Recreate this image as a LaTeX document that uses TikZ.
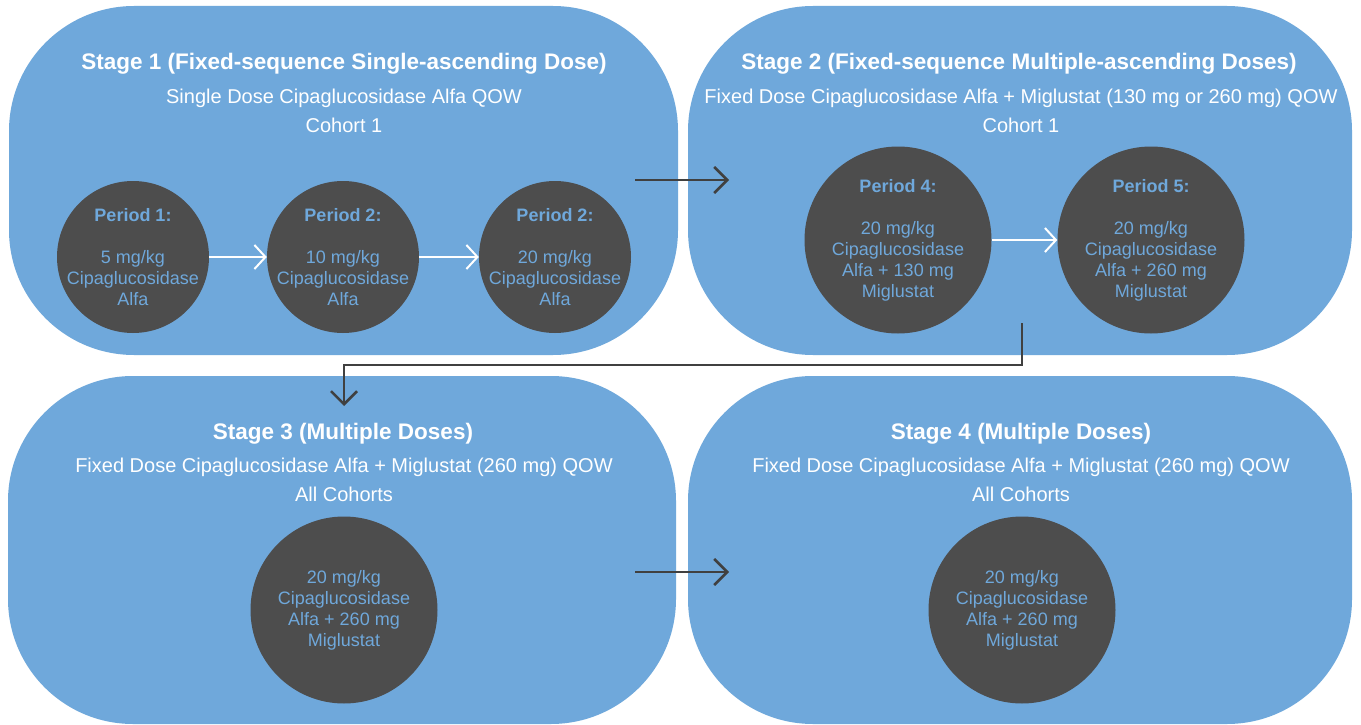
\documentclass[tikz,border=0pt]{standalone}
\usepackage{fontspec}
\setmainfont{Liberation Sans}
\usetikzlibrary{arrows.meta}

\definecolor{stageblue}{RGB}{111,168,219}
\definecolor{doseg}{RGB}{77,77,77}
\definecolor{linkg}{RGB}{64,64,64}

\tikzset{
  stagebox/.style={fill=stageblue, rounded corners=125pt, inner sep=0pt},
  stitle/.style={text=white, font=\fontsize{22.5}{26}\selectfont\bfseries},
  ssub/.style={text=white, align=center, font=\fontsize{20}{28.5}\selectfont},
  dose/.style={circle, fill=doseg, text=stageblue, inner sep=-30pt, align=center, font=\fontsize{18}{21}\selectfont},
  inarrow/.style={white, line width=2pt, -{Straight Barb[length=11pt,width=24pt,line width=2pt]}},
  flowarrow/.style={linkg, line width=2.5pt, -{Straight Barb[length=13pt,width=26pt,line width=2.5pt]}}
}

\begin{document}
\begin{tikzpicture}[x=1pt, y=-1pt]
    \fill[white] (0,0) rectangle (1361,725);
    \useasboundingbox (0,0) rectangle (1361,725);

    % stage boxes
    \node[stagebox, minimum width=669pt, minimum height=349pt] (s1) at (343.5,180.5) {};
    \node[stagebox, minimum width=664pt, minimum height=349pt] (s2) at (1020,180.5) {};
    \node[stagebox, minimum width=668pt, minimum height=348pt] (s3) at (342,550) {};
    \node[stagebox, minimum width=664pt, minimum height=348pt] (s4) at (1020,550) {};

    % headings
    \node[stitle] (t1) at (344,64) {Stage 1 (Fixed-sequence Single-ascending Dose)};
    \node[ssub] (u1) at (344,111) {Single Dose Cipaglucosidase Alfa QOW\\Cohort 1};
    \node[stitle] (t2) at (1019,64) {Stage 2 (Fixed-sequence Multiple-ascending Doses)};
    \node[ssub] (u2) at (1021,111) {Fixed Dose Cipaglucosidase Alfa + Miglustat (130 mg or 260 mg) QOW\\Cohort 1};
    \node[stitle] (t3) at (343,434) {Stage 3 (Multiple Doses)};
    \node[ssub] (u3) at (344,480) {Fixed Dose Cipaglucosidase Alfa + Miglustat (260 mg) QOW\\All Cohorts};
    \node[stitle] (t4) at (1021,434) {Stage 4 (Multiple Doses)};
    \node[ssub] (u4) at (1021,480) {Fixed Dose Cipaglucosidase Alfa + Miglustat (260 mg) QOW\\All Cohorts};

    % doses
    \node[dose, minimum size=152pt] (p1) at (133,257) {\textbf{Period 1:}\\[21pt]5 mg/kg\\Cipaglucosidase\\Alfa};
    \node[dose, minimum size=152pt] (p2) at (343,257) {\textbf{Period 2:}\\[21pt]10 mg/kg\\Cipaglucosidase\\Alfa};
    \node[dose, minimum size=152pt] (p3) at (555,257) {\textbf{Period 2:}\\[21pt]20 mg/kg\\Cipaglucosidase\\Alfa};
    \node[dose, minimum size=187pt] (p4) at (898,240) {\textbf{Period 4:}\\[21pt]20 mg/kg\\Cipaglucosidase\\Alfa + 130 mg\\Miglustat};
    \node[dose, minimum size=187pt] (p5) at (1151,240) {\textbf{Period 5:}\\[21pt]20 mg/kg\\Cipaglucosidase\\Alfa + 260 mg\\Miglustat};
    \node[dose, minimum size=187pt] (p6) at (344,610) {20 mg/kg\\Cipaglucosidase\\Alfa + 260 mg\\Miglustat};
    \node[dose, minimum size=187pt] (p7) at (1022,610) {20 mg/kg\\Cipaglucosidase\\Alfa + 260 mg\\Miglustat};

    \draw[inarrow] (p1) -- (p2);
    \draw[inarrow] (p2) -- (p3);
    \draw[inarrow] (p4) -- (p5);

    % links between stages
    \coordinate (a12) at (635,180);
    \coordinate (b12) at (729,180);
    \coordinate (a34) at (635,572);
    \coordinate (b34) at (729,572);
    \coordinate (a23) at (1022,323);
    \coordinate (b23) at (344,406);
    \draw[flowarrow] (a12) -- (b12);
    \draw[flowarrow] (a34) -- (b34);
    \draw[flowarrow] (a23) -- ++(0,42) -| (b23);
\end{tikzpicture}
\end{document}
